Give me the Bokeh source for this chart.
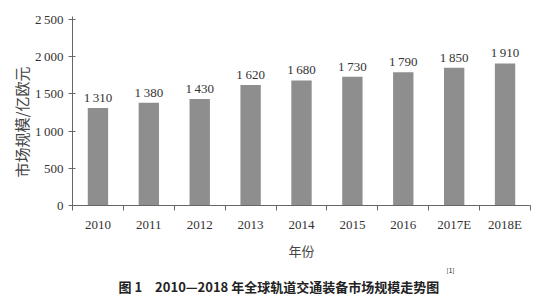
import numpy as np
from bokeh.plotting import figure
from bokeh.models import FixedTicker, ColumnDataSource, Range1d, Title
from bokeh.core.properties import value
from bokeh.embed import file_html
from bokeh.resources import INLINE

years = ["2010", "2011", "2012", "2013", "2014", "2015", "2016", "2017E", "2018E"]
sizes = [1310, 1380, 1430, 1620, 1680, 1730, 1790, 1850, 1910]
y_ticks = [0, 500, 1000, 1500, 2000, 2500]
y_tick_labels = ["0", "500", "1\u2009000", "1\u2009500", "2\u2009000", "2\u2009500"]
y_label = "市场规模/亿欧元"
x_label = "年份"
title_text = "图 1　2010—2018 年全球轨道交通装备市场规模走势图"
title_ref = "[1]"

def fmt(v):
    s = str(v)
    return s[:-3] + "\u2009" + s[-3:] if len(s) > 3 else s

W, H = 541, 295
L, R, T, B = 72, 11, 16, 90
Y_END = 2540
n = len(years)

xs = np.arange(n)
src = ColumnDataSource(dict(x=xs, top=sizes, lab=[fmt(v) for v in sizes]))

p = figure(width=W, height=H, output_backend="svg", toolbar_location=None,
           x_range=Range1d(-0.5, n - 0.5), y_range=Range1d(0, Y_END),
           min_border_left=L, min_border_right=R, min_border_top=T, min_border_bottom=B)
p.outline_line_color = None
p.xgrid.visible = False
p.ygrid.visible = False

p.vbar(x="x", top="top", width=0.4, source=src, fill_color="#8e8e8e", line_color=None)
p.text(x="x", y="top", text="lab", source=src, text_align="center", text_baseline="bottom",
       y_offset=-3, text_font=value("Liberation Serif"), text_font_size="13px", text_color="#333333")

serif = "Liberation Serif"
cjk = "Noto Sans CJK SC"
ax = p.xaxis[0]
ax.ticker = FixedTicker(ticks=list(xs), minor_ticks=list(np.arange(-0.5, n, 1.0)))
ax.major_label_overrides = {int(i): y for i, y in zip(xs, years)}
ax.major_tick_out = 0
ax.major_tick_in = 0
ax.minor_tick_out = 5
ax.minor_tick_in = 0
ax.minor_tick_line_color = "#666666"
ax.axis_line_color = "#666666"
ax.major_label_text_font = serif
ax.major_label_text_font_size = "13px"
ax.major_label_text_color = "#333333"
ax.major_label_standoff = 6
ax.axis_label = x_label
ax.axis_label_text_font = cjk
ax.axis_label_text_font_style = "normal"
ax.axis_label_text_font_size = "13px"
ax.axis_label_text_color = "#444444"
ax.axis_label_standoff = 6

ay = p.yaxis[0]
ay.ticker = FixedTicker(ticks=y_ticks, minor_ticks=[])
ay.major_label_overrides = {t: l for t, l in zip(y_ticks, y_tick_labels)}
ay.major_tick_out = 4
ay.major_tick_in = 3
ay.major_tick_line_color = "#666666"
ay.minor_tick_out = 0
ay.minor_tick_in = 0
ay.axis_line_color = "#666666"
ay.major_label_text_font = serif
ay.major_label_text_font_size = "13px"
ay.major_label_text_color = "#333333"
ay.major_label_standoff = 5

p.add_layout(Title(text=y_label, align="left", offset=28, standoff=0,
                   text_font=cjk, text_font_size="15px", text_font_style="normal",
                   text_color="#444444"), "left")
p.add_layout(Title(text=title_ref, align="left", offset=374, standoff=0,
                   text_font=cjk, text_font_size="6.5px", text_font_style="normal",
                   text_line_height=0.3, text_color="#222222"), "below")
p.add_layout(Title(text=title_text, align="left", offset=46, standoff=0,
                   text_font=cjk, text_font_size="13px", text_font_style="bold",
                   text_color="#222222"), "below")

open("out.html", "w").write(file_html(p, INLINE))
